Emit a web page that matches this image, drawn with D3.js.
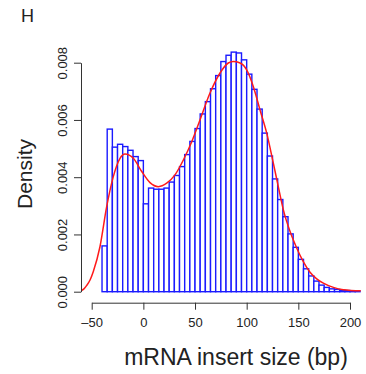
<!DOCTYPE html>
<html>
  <head>
    <meta charset="utf-8">
    <script src="https://d3js.org/d3.v7.min.js"></script>
    <title>mRNA insert size</title>
    <style>
      body { margin: 0; background: white; }
      text { font-family: "Liberation Sans", Arial, Helvetica, sans-serif; fill: #222; }
    </style>
  </head>
  <body>
  <script>
    // histogram bins (left edge, bp) and densities
    var binStarts = [-40, -35, -30, -25, -20, -15, -10, -5, 0, 5, 10, 15, 20, 25, 30, 35, 40, 45, 50, 55,
                     60, 65, 70, 75, 80, 85, 90, 95, 100, 105, 110, 115, 120, 125, 130, 135, 140, 145, 150, 155,
                     160, 165, 170, 175, 180, 185, 190, 195, 200, 205];
    var binDensity = [0.0016, 0.00568, 0.00505, 0.00515, 0.00507, 0.00494, 0.00472, 0.00458, 0.00307, 0.00362,
                      0.00358, 0.00358, 0.00362, 0.00383, 0.00406, 0.00437, 0.00479, 0.00525, 0.0057, 0.00621,
                      0.00664, 0.00709, 0.00755, 0.00804, 0.00826, 0.00837, 0.00834, 0.0081, 0.0076, 0.00707,
                      0.00638, 0.00554, 0.00474, 0.00394, 0.00322, 0.00262, 0.00202, 0.00155, 0.00113, 0.0008,
                      0.00055, 0.00037, 0.00023, 0.00015, 0.0001, 0.00008, 0.00005, 0.00004, 0.00003, 0.00002];
    var binWidth = 5;

    // smoothed density curve (red)
    var curveX = [-61, -57.5, -54.8, -51.6, -48.5, -42, -35.5, -29.1, -22.6, -17.8, -9.7, -1.6, 6.4, 14.5, 22.6, 30.6,
                  38.7, 46.8, 54.8, 64.5, 74.2, 82.2, 87.1, 93.6, 100, 106.4, 112.9, 119.4, 125.8, 130.6, 135.5,
                  142, 148.5, 154.8, 161.3, 167.8, 174.2, 183.9, 193.6, 211];
    var curveY = [0.00003, 0.0001, 0.00022, 0.00041, 0.0007, 0.00157, 0.00297, 0.00402, 0.00466, 0.00481, 0.00466,
                  0.0042, 0.00381, 0.00367, 0.00379, 0.00408, 0.0046, 0.00524, 0.006, 0.00694, 0.00764,
                  0.00799, 0.00804, 0.00799, 0.00775, 0.00717, 0.00635, 0.00554, 0.00449, 0.00367, 0.00286,
                  0.0021, 0.00152, 0.00105, 0.00068, 0.00045, 0.0003, 0.00015, 0.00007, 0.00003];

    var xTicks = [-50, 0, 50, 100, 150, 200];
    var yTicks = [0, 0.002, 0.004, 0.006, 0.008];

    var width = 366, height = 374;

    var x = d3.scaleLinear().domain([-50, 200]).range([91.7, 350]);
    var y = d3.scaleLinear().domain([0, 0.008]).range([291.7, 62.7]);

    var svg = d3.select("body").append("svg")
                .attr("width", width)
                .attr("height", height);

    // plot region (R style: 4% beyond the axis range)
    svg.append("clipPath").attr("id", "plotclip")
       .append("rect")
         .attr("x", x(-60.4))
         .attr("y", 40)
         .attr("width", x(210.4) - x(-60.4))
         .attr("height", 262);

    var plot = svg.append("g").attr("clip-path", "url(#plotclip)");

    var bins = binStarts.map(function(s, i) { return {"start": s, "d": binDensity[i]}; });

    plot.selectAll(".bar")
        .data(bins)
        .enter().append("rect")
          .attr("class", "bar")
          .attr("x", function(b) { return x(b.start); })
          .attr("width", function(b) { return x(b.start + binWidth) - x(b.start); })
          .attr("y", function(b) { return y(b.d); })
          .attr("height", function(b) { return y(0) - y(b.d); })
          .style("fill", "white")
          .style("stroke", "#1a1aff")
          .style("stroke-width", 1.4);

    var pts = curveX.map(function(v, i) { return [v, curveY[i]]; });
    var line = d3.line()
                 .x(function(p) { return x(p[0]); })
                 .y(function(p) { return y(p[1]); })
                 .curve(d3.curveMonotoneX);

    plot.append("path")
        .datum(pts)
        .attr("d", line)
        .style("fill", "none")
        .style("stroke", "#ff1a1a")
        .style("stroke-width", 1.5);

    // axes
    var xAxis = d3.axisBottom(x)
                  .tickValues(xTicks)
                  .tickSize(7)
                  .tickSizeOuter(0)
                  .tickPadding(6)
                  .tickFormat(function(v) { return v < 0 ? "\u2013" + Math.abs(v) : String(v); });

    var gx = svg.append("g")
                .attr("transform", "translate(0,302.7)")
                .call(xAxis);
    gx.selectAll("text").style("font-size", "13px").attr("dy", "0.9em");

    var yAxis = d3.axisLeft(y)
                  .tickValues(yTicks)
                  .tickSize(7)
                  .tickSizeOuter(0)
                  .tickFormat(d3.format(".3f"));

    var gy = svg.append("g")
                .attr("transform", "translate(81,0)")
                .call(yAxis);
    gy.selectAll(".tick text")
      .style("font-size", "13px")
      .attr("x", 0).attr("dy", 0)
      .attr("text-anchor", "middle")
      .attr("transform", "translate(-18.5,0) rotate(-90)")
      .attr("dominant-baseline", "central");

    svg.selectAll(".domain, .tick line").style("stroke", "#333").style("stroke-width", 1);

    // labels
    svg.append("text")
       .attr("x", 236).attr("y", 365)
       .attr("text-anchor", "middle")
       .style("font-size", "23px")
       .text("mRNA insert size (bp)");

    svg.append("text")
       .attr("transform", "translate(32,174) rotate(-90)")
       .attr("text-anchor", "middle")
       .style("font-size", "21px")
       .text("Density");

    svg.append("text")
       .attr("x", 21).attr("y", 22)
       .style("font-size", "18px")
       .text("H");
  </script>
</body>
</html>
